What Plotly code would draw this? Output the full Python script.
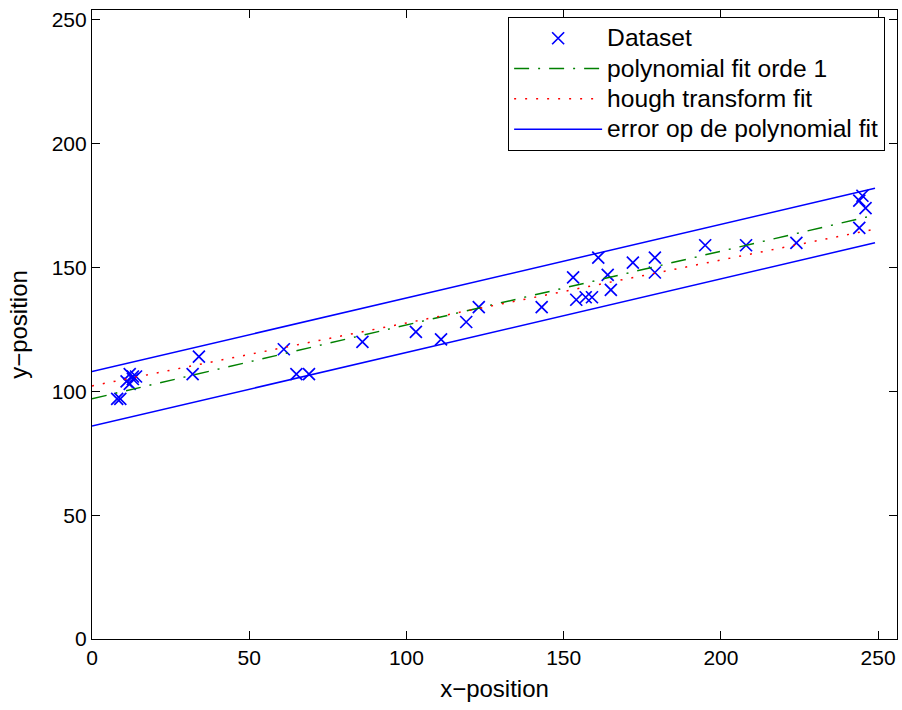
import plotly.graph_objects as go

# Dataset points
data_x = [8, 9, 11, 12, 12, 13, 13, 14, 32, 34, 61, 65, 69, 86, 103, 111, 119, 123,
          143, 153, 154, 157, 159, 161, 164, 165, 172, 179, 179, 195, 208, 224,
          244, 244, 245, 246]
data_y = [97, 97, 104, 107, 103, 105, 106, 106, 107, 114, 117, 107, 107, 120, 124, 121, 128, 134,
          134, 146, 137, 138, 138, 154, 147, 141, 152, 154, 148, 159, 159, 160,
          166, 177, 179, 174]

# Fit lines (end points)
fit_x = [0, 249]
poly_y = [97, 171.2]
hough_y = [102.2, 165.5]
err_upper_y = [108, 182]
err_lower_y = [86, 160]

x_ticks = [0, 50, 100, 150, 200, 250]
y_ticks = [0, 50, 100, 150, 200, 250]

legend_names = ["Dataset", "polynomial fit orde 1", "hough transform fit",
                "error op de polynomial fit"]

FONT = "Liberation Sans, Arial, Helvetica, sans-serif"
BLUE = "rgb(0,0,255)"
GREEN = "rgb(0,128,0)"
RED = "rgb(255,0,0)"


def big(name):
    return '<span style="font-size:24.6px">' + name + '</span>'


fig = go.Figure()
fig.add_trace(go.Scatter(x=data_x, y=data_y, mode="markers", name=big(legend_names[0]),
                         marker=dict(symbol="x-thin", size=12, color=BLUE,
                                     line=dict(color=BLUE, width=1.7))))
fig.add_trace(go.Scatter(x=fit_x, y=poly_y, mode="lines", name=big(legend_names[1]),
                         line=dict(color=GREEN, width=1.5, dash="15px,9px,2px,9px")))
fig.add_trace(go.Scatter(x=fit_x, y=hough_y, mode="lines", name=big(legend_names[2]),
                         line=dict(color=RED, width=1.5, dash="2px,9px")))
fig.add_trace(go.Scatter(x=fit_x, y=err_upper_y, mode="lines", name=big(legend_names[3]),
                         line=dict(color=BLUE, width=1.5)))
fig.add_trace(go.Scatter(x=fit_x, y=err_lower_y, mode="lines", showlegend=False,
                         line=dict(color=BLUE, width=1.5)))

axis_common = dict(showline=True, linecolor="black", linewidth=1.2, mirror="ticks",
                   ticks="inside", ticklen=8, tickwidth=1, tickcolor="black",
                   showgrid=False, zeroline=False,
                   tickfont=dict(family=FONT, size=21, color="black"))

fig.update_xaxes(range=[0, 256], tickvals=x_ticks, ticktext=[str(v) for v in x_ticks],
                 title=dict(text="x−position", font=dict(family=FONT, size=24, color="black"), standoff=11),
                 **axis_common)
fig.update_yaxes(range=[0, 254], tickvals=y_ticks, ticktext=[str(v) for v in y_ticks],
                 title=dict(text="y−position", font=dict(family=FONT, size=24, color="black"), standoff=17),
                 **axis_common)

fig.update_layout(
    width=902, height=710,
    margin=dict(l=92, r=5, t=10, b=71),
    paper_bgcolor="white", plot_bgcolor="white",
    font=dict(family=FONT, size=21, color="black"),
    legend=dict(x=0.985, y=0.989, xanchor="right", yanchor="top",
                bgcolor="white", bordercolor="black", borderwidth=1.2,
                font=dict(family=FONT, size=21, color="black"),
                itemwidth=88, tracegroupgap=0),
)

fig.write_html("out.html")
